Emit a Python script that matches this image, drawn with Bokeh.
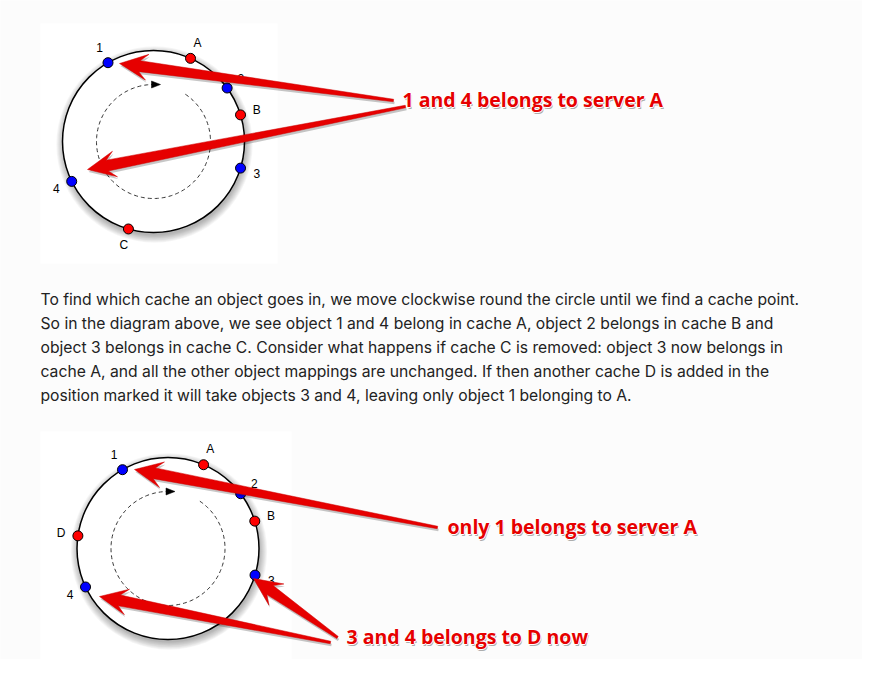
import numpy as np
from bokeh.core.properties import value
from bokeh.embed import file_html
from bokeh.models import Range1d
from bokeh.plotting import figure
from bokeh.resources import INLINE

# positions on the hash ring, degrees anticlockwise from 3 o'clock
top_object_labels = ["1", "2", "3", "4"]
top_object_angles = [120, 36, -17, 206]
top_cache_labels = ["A", "B", "C"]
top_cache_angles = [66, 17, 254]

bottom_object_labels = ["1", "2", "3", "4"]
bottom_object_angles = [120, 37, -17, 205]
bottom_cache_labels = ["A", "B", "D"]
bottom_cache_angles = [67, 17.5, 172]

paragraph = [
    "To find which cache an object goes in, we move clockwise round the circle until we find a cache point.",
    "So in the diagram above, we see object 1 and 4 belong in cache A, object 2 belongs in cache B and",
    "object 3 belongs in cache C. Consider what happens if cache C is removed: object 3 now belongs in",
    "cache A, and all the other object mappings are unchanged. If then another cache D is added in the",
    "position marked it will take objects 3 and 4, leaving only object 1 belonging to A.",
]

callout_text = ["1 and 4 belongs to server A", "only 1 belongs to server A", "3 and 4 belongs to D now"]
callout_x = [402, 447, 346]
callout_y = [99, 526, 636]

# annotation arrows: from the callout (tail) to the ring point (tip)
arrow_tail_x = [393, 405, 437, 337, 330]
arrow_tail_y = [100, 106, 527, 637, 642]
arrow_tip_x = [119, 87, 134, 253, 99]
arrow_tip_y = [63, 169, 469, 578, 596]

W, H = 862, 659
RED = "#e60000"
FONT = "Inter"

p = figure(width=W, height=H, x_range=Range1d(0, W), y_range=Range1d(H, 0),
           output_backend="svg", toolbar_location=None, min_border=0,
           x_axis_location=None, y_axis_location=None)
p.grid.visible = False
p.outline_line_color = None
p.background_fill_color = "#fcfcfc"
p.border_fill_color = "#fcfcfc"

# the two pictures
p.quad(left=[40, 40], right=[277, 291], top=[23, 431], bottom=[263, 662],
       fill_color="white", line_color=None)


def ring_xy(cx, cy, r, angles):
    t = np.radians(angles)
    return cx + r * np.cos(t), cy - r * np.sin(t)


def draw_ring(cx, cy, obj_labels, obj_angles, cache_labels, cache_angles):
    r = 91
    for k in range(9):
        p.circle(x=[cx + 1], y=[cy + 3], radius=r + 0.9 * k,
                 fill_color="black", fill_alpha=0.035, line_color=None)
    p.circle(x=[cx], y=[cy], radius=r, fill_color="white",
             line_color="black", line_width=1.5)

    # dashed clockwise path with its little arrowhead
    t = np.linspace(56, 91 - 360, 200)
    xs, ys = ring_xy(cx, cy, 57, t)
    p.line(xs, ys, line_color="#333333", line_dash="4 3", line_width=1)
    ex, ey = ring_xy(cx, cy, 57, [91])
    p.patch([ex[0] - 1, ex[0] + 8, ex[0] - 1], [ey[0] - 3.5, ey[0], ey[0] + 3.5],
            fill_color="black", line_color="black", line_width=0.5)

    ox, oy = ring_xy(cx, cy, r, obj_angles)
    p.scatter(ox, oy, size=10, fill_color="#0000ff", line_color="black", line_width=1)
    qx, qy = ring_xy(cx, cy, r, cache_angles)
    p.scatter(qx, qy, size=10, fill_color="#ff0000", line_color="black", line_width=1)

    lx, ly = ring_xy(cx, cy, 108, list(obj_angles) + list(cache_angles))
    p.text(lx, ly, text=list(obj_labels) + list(cache_labels), text_font=value("Liberation Sans"),
           text_font_size="12px", text_align="center", text_baseline="middle",
           text_color="black")


draw_ring(153, 141, top_object_labels, top_object_angles, top_cache_labels, top_cache_angles)
draw_ring(167.5, 548, bottom_object_labels, bottom_object_angles,
          bottom_cache_labels, bottom_cache_angles)

# paragraph
p.text(x=[40] * len(paragraph), y=[299 + 24 * i for i in range(len(paragraph))],
       text=paragraph, text_font=value(FONT), text_font_size="15.7px",
       text_baseline="alphabetic", text_align="left", text_color="#222222")


def arrow_outline(x0, y0, x1, y1):
    tail = np.array([x0, y0], float)
    tip = np.array([x1, y1], float)
    u = (tip - tail) / np.hypot(*(tip - tail))
    n = np.array([-u[1], u[0]])
    head_len, head_half, neck, tail_w = 28, 13, 11, 2.5
    base = tip - u * head_len * 0.72
    pts = [tip,
           tip - u * head_len + n * head_half,
           base + n * neck / 2,
           tail + n * tail_w / 2,
           tail - n * tail_w / 2,
           base - n * neck / 2,
           tip - u * head_len - n * head_half]
    return [q[0] for q in pts], [q[1] for q in pts]


shapes = [arrow_outline(*a) for a in zip(arrow_tail_x, arrow_tail_y, arrow_tip_x, arrow_tip_y)]
p.patches([[x + 1 for x in s[0]] for s in shapes], [[y + 2.5 for y in s[1]] for s in shapes],
          fill_color="black", fill_alpha=0.22, line_color=None)
p.patches([s[0] for s in shapes], [s[1] for s in shapes],
          fill_color=RED, line_color="#cc0000", line_width=0.5, line_join="round")

# callout labels: soft shadow, white rim, red text
style = dict(text_font=value("Open Sans"), text_font_size="19.5px", text_font_style="bold",
             text_baseline="alphabetic", text_align="left")
p.text([x + 1 for x in callout_x], [y + 2 for y in callout_y], text=callout_text,
       text_color="#777777", text_alpha=0.6, **style)
for dx, dy in [(-1, 0), (1, 0), (0, -1), (0, 1)]:
    p.text([x + dx for x in callout_x], [y + dy for y in callout_y], text=callout_text,
           text_color="white", **style)
p.text(callout_x, callout_y, text=callout_text, text_color=RED, **style)

open("out.html", "w").write(file_html(p, INLINE))
